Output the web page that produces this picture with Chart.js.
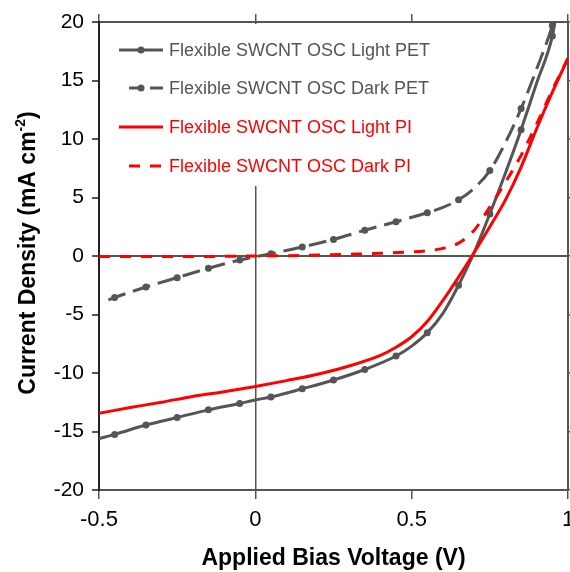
<!DOCTYPE html>
<html>
<head>
<meta charset="utf-8">
<script src="https://cdn.jsdelivr.net/npm/chart.js@4.4.1/dist/chart.umd.min.js"></script>
<style>
  html, body { margin: 0; padding: 0; background: #fff; }
</style>
</head>
<body>
<canvas id="ivChart" width="570" height="572"></canvas>
<script>
// J-V data (V in volts, J in mA cm^-2)
const lightPetV = [-0.5, -0.45, -0.35, -0.25, -0.15, -0.05, 0, 0.05, 0.15, 0.25, 0.35, 0.45, 0.5, 0.55, 0.6, 0.65, 0.7, 0.75, 0.8, 0.85, 0.9, 0.95, 0.958];
const lightPetJ = [-15.6, -15.25, -14.45, -13.8, -13.15, -12.6, -12.3, -12.05, -11.35, -10.6, -9.7, -8.55, -7.7, -6.55, -4.9, -2.5, 0.3, 3.6, 7.1, 10.8, 14.8, 18.8, 20];

const darkPetV = [-0.47, -0.45, -0.35, -0.25, -0.15, -0.05, 0.05, 0.15, 0.25, 0.35, 0.45, 0.55, 0.6, 0.65, 0.7, 0.75, 0.8, 0.85, 0.9, 0.95, 0.953];
const darkPetJ = [-3.75, -3.55, -2.65, -1.85, -1.05, -0.35, 0.2, 0.77, 1.42, 2.2, 2.93, 3.7, 4.15, 4.8, 5.8, 7.3, 9.7, 12.6, 16.0, 19.7, 20];

const lightPiV = [-0.5, -0.4, -0.3, -0.2, -0.1, 0, 0.1, 0.2, 0.3, 0.4, 0.45, 0.5, 0.55, 0.6, 0.65, 0.7, 0.75, 0.8, 0.85, 0.9, 0.95, 1.0];
const lightPiJ = [-13.45, -12.95, -12.5, -12.0, -11.6, -11.15, -10.65, -10.1, -9.4, -8.5, -7.8, -6.9, -5.6, -3.8, -1.8, 0.3, 2.5, 4.8, 7.6, 10.9, 14.0, 16.9];

const darkPiV = [-0.5, -0.3, -0.1, 0, 0.1, 0.2, 0.3, 0.4, 0.5, 0.55, 0.6, 0.65, 0.7, 0.75, 0.8, 0.85, 0.9, 0.95, 1.0];
const darkPiJ = [-0.05, -0.05, -0.03, 0, 0.03, 0.08, 0.15, 0.23, 0.35, 0.45, 0.65, 1.1, 2.2, 4.2, 6.3, 8.6, 11.3, 14.2, 16.9];

const xTicks = [-0.5, 0, 0.5, 1];
const yTicks = [-20, -15, -10, -5, 0, 5, 10, 15, 20];

const seriesNames = [
  'Flexible SWCNT OSC Light PET',
  'Flexible SWCNT OSC Dark PET',
  'Flexible SWCNT OSC Light PI',
  'Flexible SWCNT OSC Dark PI'
];

const GREY = '#555555';
const RED = '#ff0000';
const FONT = '"Liberation Sans", Arial, sans-serif';

function toPoints(xs, ys) {
  return xs.map((x, i) => ({ x: x, y: ys[i] }));
}

// grey curves carry a marker at every x.x5 V
function markerRadius(ctx) {
  const p = ctx.raw;
  if (!p) return 0;
  const h = Math.round(Math.abs(p.x) * 100);
  return (h % 10 === 5 && Math.abs(p.x * 100 - Math.round(p.x * 100)) < 1e-6) ? 3.5 : 0;
}

// legend drawn inside the plot on a white box
const legendBox = {
  id: 'legendBox',
  afterDatasetsDraw(chart) {
    const c = chart.ctx;
    const a = chart.chartArea;
    c.save();
    c.fillStyle = '#fff';
    c.fillRect(a.left + 2, a.top + 2, 340, 162);
    const rows = [50, 88, 127, 166];
    const styles = [
      { color: GREY, dash: [], x0: 119, marker: true },
      { color: GREY, dash: [14, 7], x0: 129, marker: true },
      { color: RED, dash: [], x0: 119, marker: false },
      { color: RED, dash: [11, 10], x0: 129, marker: false }
    ];
    c.font = '18px ' + FONT;
    c.textBaseline = 'middle';
    styles.forEach((s, i) => {
      const y = rows[i];
      c.strokeStyle = s.color;
      c.lineWidth = 3;
      c.setLineDash(s.dash);
      c.beginPath();
      c.moveTo(s.x0, y);
      c.lineTo(163, y);
      c.stroke();
      c.setLineDash([]);
      if (s.marker) {
        c.fillStyle = s.color;
        c.beginPath();
        c.arc(141, y, 3.5, 0, Math.PI * 2);
        c.fill();
      }
      c.fillStyle = s.color;
      c.fillText(seriesNames[i], 169, y + 1);
    });
    c.restore();
  }
};

// axis titles (y title needs a superscript)
const axisTitles = {
  id: 'axisTitles',
  afterDraw(chart) {
    const c = chart.ctx;
    const a = chart.chartArea;
    c.save();
    c.fillStyle = '#000';
    c.font = 'bold 23px ' + FONT;
    c.textAlign = 'center';
    c.textBaseline = 'middle';
    c.fillText('Applied Bias Voltage (V)', (a.left + a.right) / 2, 559);

    c.translate(29, 253);
    c.rotate(-Math.PI / 2);
    const main = 'Current Density (mA cm';
    const sup = '-2';
    const close = ')';
    c.font = 'bold 23px ' + FONT;
    const wMain = c.measureText(main).width;
    const wClose = c.measureText(close).width;
    c.font = 'bold 14px ' + FONT;
    const wSup = c.measureText(sup).width;
    let x = -(wMain + wSup + wClose) / 2;
    c.textAlign = 'left';
    c.font = 'bold 23px ' + FONT;
    c.fillText(main, x, 0);
    x += wMain;
    c.font = 'bold 14px ' + FONT;
    c.fillText(sup, x, -8);
    x += wSup;
    c.font = 'bold 23px ' + FONT;
    c.fillText(close, x, 0);
    c.restore();
  }
};

const lineBase = { borderWidth: 3, fill: false, cubicInterpolationMode: 'monotone', pointHoverRadius: 0 };

new Chart(document.getElementById('ivChart').getContext('2d'), {
  type: 'line',
  data: {
    datasets: [
      Object.assign({}, lineBase, {
        label: seriesNames[2], data: toPoints(lightPiV, lightPiJ),
        borderColor: RED, pointRadius: 0
      }),
      Object.assign({}, lineBase, {
        label: seriesNames[3], data: toPoints(darkPiV, darkPiJ),
        borderColor: RED, borderDash: [11, 10], pointRadius: 0
      }),
      Object.assign({}, lineBase, {
        label: seriesNames[1], data: toPoints(darkPetV, darkPetJ),
        borderColor: GREY, borderDash: [18, 8], pointRadius: markerRadius,
        pointBackgroundColor: GREY, pointBorderWidth: 0
      }),
      Object.assign({}, lineBase, {
        label: seriesNames[0], data: toPoints(lightPetV, lightPetJ),
        borderColor: GREY, pointRadius: markerRadius,
        pointBackgroundColor: GREY, pointBorderWidth: 0
      })
    ]
  },
  options: {
    responsive: false,
    animation: false,
    events: [],
    layout: { padding: 0 },
    plugins: { legend: { display: false }, tooltip: { enabled: false } },
    scales: {
      x: {
        type: 'linear', position: 'bottom', min: -0.5, max: 1,
        afterBuildTicks: s => { s.ticks = xTicks.map(v => ({ value: v })); },
        afterFit: s => { s.height = 82; s.paddingLeft = 0; s.paddingRight = 0; },
        ticks: { color: '#000', font: { family: FONT, size: 22 }, padding: 8, maxRotation: 0,
          callback: v => String(v) },
        grid: {
          color: ctx => (ctx.tick && ctx.tick.value === 0) ? GREY : 'rgba(0,0,0,0)',
          tickColor: GREY, lineWidth: 1.5, tickLength: 9
        },
        border: { color: GREY, width: 2 }
      },
      x2: {
        type: 'linear', position: 'top', min: -0.5, max: 1,
        afterBuildTicks: s => { s.ticks = xTicks.map(v => ({ value: v })); },
        afterFit: s => { s.height = 22; s.paddingLeft = 0; s.paddingRight = 0; },
        ticks: { display: false },
        grid: { drawOnChartArea: false, color: GREY, lineWidth: 1.5, tickLength: 8 },
        border: { color: GREY, width: 2 }
      },
      y: {
        type: 'linear', position: 'left', min: -20, max: 20,
        afterBuildTicks: s => { s.ticks = yTicks.map(v => ({ value: v })); },
        afterFit: s => { s.width = 99; },
        ticks: { color: '#000', font: { family: FONT, size: 21 }, padding: 8 },
        grid: {
          color: ctx => (ctx.tick && ctx.tick.value === 0) ? GREY : 'rgba(0,0,0,0)',
          tickColor: GREY, lineWidth: 2, tickLength: 7
        },
        border: { color: '#222', width: 2 }
      },
      y2: {
        type: 'linear', position: 'right', min: -20, max: 20,
        afterBuildTicks: s => { s.ticks = yTicks.map(v => ({ value: v })); },
        afterFit: s => { s.width = 2; },
        ticks: { display: false },
        grid: { drawOnChartArea: false, color: GREY, lineWidth: 1.5, tickLength: 7 },
        border: { color: GREY, width: 2 }
      }
    }
  },
  plugins: [legendBox, axisTitles]
});
</script>
</body>
</html>
